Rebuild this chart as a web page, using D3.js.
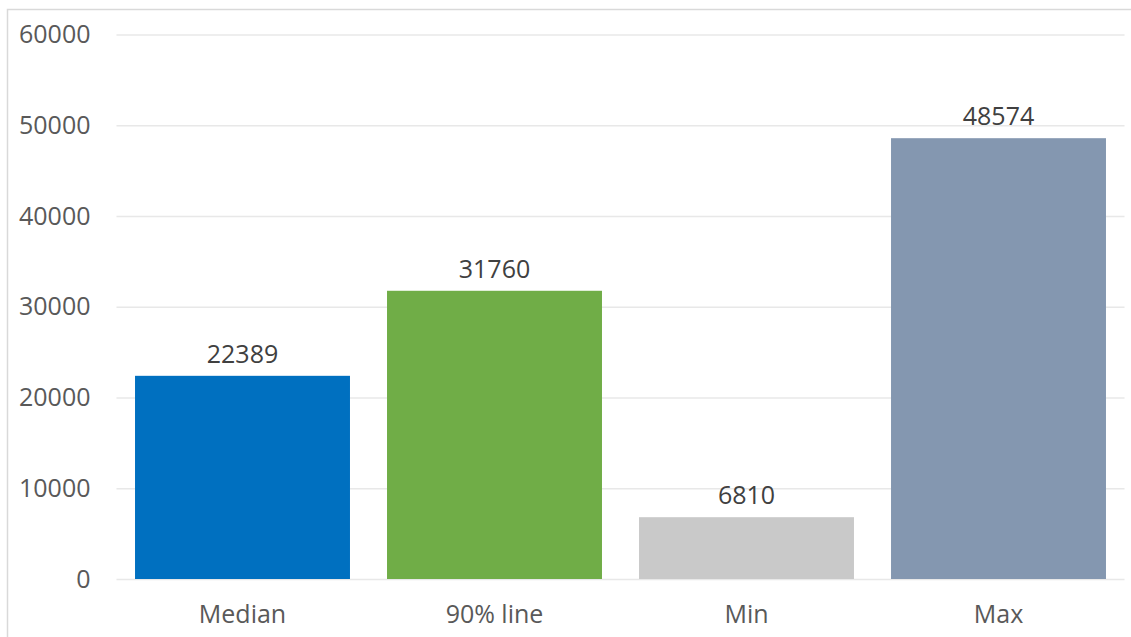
<!DOCTYPE html>
<html>
<head>
<meta charset="utf-8">
<script src="https://cdn.jsdelivr.net/npm/d3@7/dist/d3.min.js"></script>
<style>
  html, body { margin: 0; padding: 0; background: #ffffff; }
  svg { display: block; }
  text { font-family: "Open Sans", "Noto Sans", sans-serif; }
</style>
</head>
<body>
<svg id="chart" width="1131" height="637"></svg>
<script>
// Response-time summary values
const categories = ["Median", "90% line", "Min", "Max"];
const values = [22389, 31760, 6810, 48574];
const colors = ["#0070C0", "#70AD47", "#C9C9C9", "#8497B0"];
const yTicks = [0, 10000, 20000, 30000, 40000, 50000, 60000];

const svg = d3.select("#chart");
const W = 1131, H = 637;

// Outer chart frame
svg.append("rect")
  .attr("x", 7.5).attr("y", 9.5)
  .attr("width", W + 10).attr("height", H + 10)
  .attr("fill", "#ffffff")
  .attr("stroke", "#D9D9D9").attr("stroke-width", 1.5);

const plot = { left: 116.5, right: 1124.5, top: 34.5, bottom: 579 };

const x = d3.scaleBand()
  .domain(categories)
  .range([plot.left, plot.right])
  .paddingInner(0.147)
  .paddingOuter(0.0735);

const y = d3.scaleLinear()
  .domain([0, 60000])
  .range([plot.bottom, plot.top]);

// Horizontal gridlines and value axis
const yAxis = d3.axisLeft(y)
  .tickValues(yTicks)
  .tickSize(-(plot.right - plot.left))
  .tickPadding(26)
  .tickFormat(d3.format("d"));

const gy = svg.append("g")
  .attr("transform", `translate(${plot.left},0)`)
  .call(yAxis);
gy.select(".domain").remove();
gy.selectAll(".tick line")
  .attr("stroke", "#E8E8E8").attr("stroke-width", 1.5);
gy.selectAll(".tick text")
  .attr("fill", "#595959")
  .attr("font-size", 25);

// Bars
svg.append("g").selectAll("rect")
  .data(values)
  .join("rect")
  .attr("x", (d, i) => x(categories[i]))
  .attr("y", d => y(d))
  .attr("width", x.bandwidth())
  .attr("height", d => y(0) - y(d))
  .attr("fill", (d, i) => colors[i]);

// Value labels above bars
svg.append("g").selectAll("text")
  .data(values)
  .join("text")
  .attr("x", (d, i) => x(categories[i]) + x.bandwidth() / 2)
  .attr("y", d => y(d) - 13)
  .attr("text-anchor", "middle")
  .attr("fill", "#404040")
  .attr("font-size", 25)
  .text(d => d);

// Category axis
const xAxis = d3.axisBottom(x).tickSize(0).tickPadding(26);
const gx = svg.append("g")
  .attr("transform", `translate(0,${plot.bottom})`)
  .call(xAxis);
gx.select(".domain").remove();
gx.selectAll(".tick text")
  .attr("fill", "#595959")
  .attr("font-size", 25);
</script>
</body>
</html>
